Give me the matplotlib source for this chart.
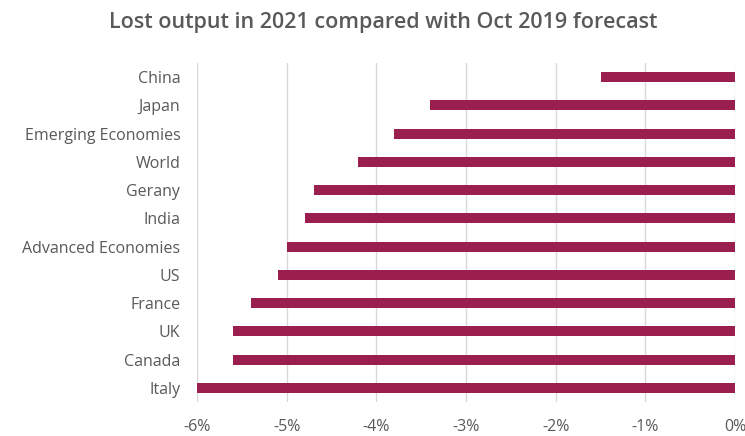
import numpy as np
from matplotlib import pyplot as plt
from matplotlib.ticker import FuncFormatter

plt.rcParams['font.family'] = ['Open Sans', 'DejaVu Sans']

countries = ['China', 'Japan', 'Emerging Economies', 'World', 'Gerany', 'India',
             'Advanced Economies', 'US', 'France', 'UK', 'Canada', 'Italy']
lost_output = [-1.5, -3.4, -3.8, -4.2, -4.7, -4.8, -5.0, -5.1, -5.4, -5.6, -5.6, -6.0]
x_ticks = [-6, -5, -4, -3, -2, -1, 0]

grey = '#595959'
fig = plt.figure(figsize=(7.45, 4.36), dpi=100)
ax = fig.add_axes([0.2644, 0.078, 0.7222, 0.7775])

y = np.arange(len(countries))
ax.barh(y, lost_output, height=0.36, color='#9B1F4E', zorder=3)

ax.set_ylim(len(countries) - 0.5, -0.5)
ax.set_xlim(-6, 0)
ax.set_yticks(y)
ax.set_yticklabels(countries)
ax.set_xticks(x_ticks)
ax.xaxis.set_major_formatter(FuncFormatter(lambda v, p: '%d%%' % v))

ax.grid(axis='x', color='#D9D9D9', linewidth=1, zorder=0)
for s in ax.spines.values():
    s.set_visible(False)
ax.tick_params(axis='both', length=0, colors=grey, labelsize=11.5)
ax.tick_params(axis='y', pad=12)
ax.tick_params(axis='x', pad=12.5)

fig.text(0.514, 0.948, 'Lost output in 2021 compared with Oct 2019 forecast',
         ha='center', va='center', fontsize=15.5, fontweight='semibold', color=grey)

fig.savefig('out.png', dpi=100)
